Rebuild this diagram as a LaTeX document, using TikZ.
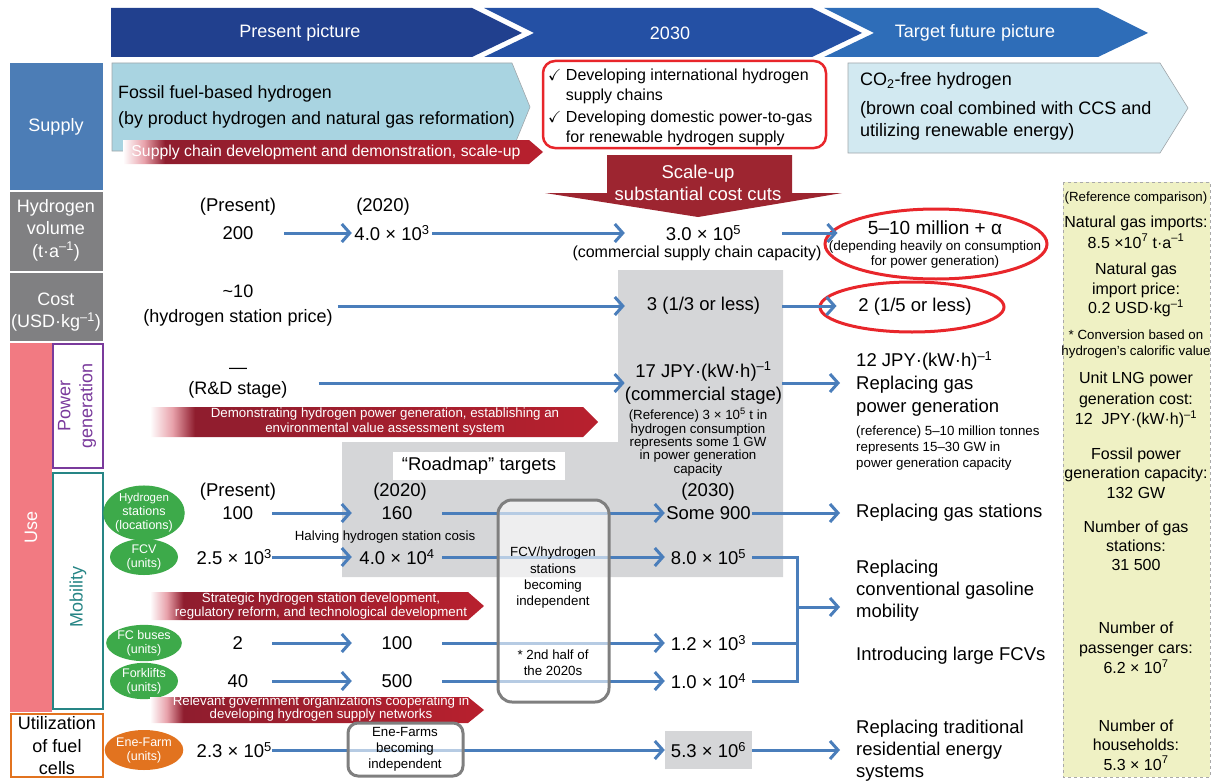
\documentclass[tikz,border=0pt]{standalone}
\usepackage{amssymb}
\usepackage{fontspec}
\setmainfont{Liberation Sans}
\usetikzlibrary{arrows.meta, positioning, calc, shapes.geometric}
\definecolor{navyA}{HTML}{21408E}
\definecolor{navyB}{HTML}{2450A4}
\definecolor{navyC}{HTML}{2E6DB8}
\definecolor{supblue}{HTML}{4C7DB6}
\definecolor{labgray}{HTML}{808082}
\definecolor{usepink}{HTML}{F27A82}
\definecolor{pgpurple}{HTML}{7A3A9C}
\definecolor{mobteal}{HTML}{268585}
\definecolor{fcorange}{HTML}{E2731F}
\definecolor{fcgreen}{HTML}{3DAA4A}
\definecolor{fossil}{HTML}{A9D4E1}
\definecolor{cofree}{HTML}{D2E9F1}
\definecolor{boxgray}{HTML}{A0A6AA}
\definecolor{chkred}{HTML}{E8262B}
\definecolor{scalered}{HTML}{9D2530}
\definecolor{roadgray}{HTML}{D5D6D8}
\definecolor{hblue}{HTML}{4A7EBB}
\definecolor{indepgray}{HTML}{7F7F7F}
\definecolor{refyellow}{HTML}{EFF1C4}
\definecolor{dashgray}{HTML}{A9A9A9}
\definecolor{fadepink}{HTML}{E8A2AB}
\definecolor{deepred}{HTML}{8F1D2E}
\definecolor{midred}{HTML}{A11F2E}
\definecolor{brightred}{HTML}{B8202E}
\pgfdeclarehorizontalshading{redfade}{100bp}{color(0bp)=(white); color(25bp)=(white); color(27.5bp)=(fadepink); color(30bp)=(deepred); color(50bp)=(midred); color(75bp)=(brightred); color(100bp)=(brightred)}

\begin{document}
\begin{tikzpicture}[x=1pt, y=-1pt,
  every node/.style={inner sep=0pt},
  big/.style={font=\fontsize{18.5}{22}\selectfont},
  mid/.style={font=\fontsize{16}{20}\selectfont},
  small/.style={font=\fontsize{13.3}{15}\selectfont},
  tag/.style={ellipse, minimum width=68pt, text=white, align=center, font=\fontsize{12.5}{14}\selectfont},
  pval/.style={big, anchor=east, minimum width=68pt},
  tval/.style={big, minimum width=90pt},
  fval/.style={big, minimum width=87pt},
  goal/.style={big, anchor=west, align=left, inner xsep=16pt},
  barrow/.style={line width=3pt, draw=hblue, -{Straight Barb[length=8pt,width=18pt]}},
  bline/.style={line width=3pt, draw=hblue},
  oval/.style={draw=chkred, line width=3pt, ellipse},
  indepbox/.style={draw=indepgray, line width=3pt, fill=white, fill opacity=0.6}]
  \useasboundingbox (0,0) rectangle (1214,781);

  % header chevrons
  \fill[navyA] (111,8) -- (472,8) -- (522,33) -- (472,57) -- (111,57) -- cycle;
  \fill[navyB] (484,8) -- (812,8) -- (862,33) -- (812,57) -- (484,57) -- (534,33) -- cycle;
  \fill[navyC] (824,8) -- (1098,8) -- (1148,33) -- (1098,57) -- (824,57) -- (874,33) -- cycle;
  \node[text=white, font=\fontsize{18}{22}\selectfont] (hpres) at (300,33) {Present picture};
  \node[text=white, font=\fontsize{18}{22}\selectfont] (hmid) at (670,33) {2030};
  \node[text=white, font=\fontsize{18}{22}\selectfont] (hfut) at (975,33) {Target future picture};

  % left column
  \fill[supblue] (10,63) rectangle (103,190);
  \node[text=white, font=\fontsize{18}{22.5}\selectfont] (lsup) at (56,127) {Supply};
  \fill[labgray] (10,192) rectangle (103,271);
  \node[text=white, align=center, font=\fontsize{18}{22.5}\selectfont] (lvol) at (56,230) {Hydrogen\\volume\\(t·a\textsuperscript{–1})};
  \fill[labgray] (10,273) rectangle (103,341);
  \node[text=white, align=center, font=\fontsize{18}{22}\selectfont] (lcost) at (56,312) {Cost\\(USD·kg\textsuperscript{–1})};
  \fill[usepink] (10,343) rectangle (52,712);
  \node[text=white, rotate=90, font=\fontsize{18}{22}\selectfont] (luse) at (31,527) {Use};
  \draw[pgpurple, line width=2.2pt, fill=white] (53.1,344.1) rectangle (102.9,467.9);
  \node[text=pgpurple, rotate=90, align=center, font=\fontsize{18}{22}\selectfont] (lpow) at (77,406) {Power\\generation};
  \draw[mobteal, line width=2.2pt, fill=white] (53.1,473) rectangle (102.9,709);
  \node[text=mobteal, rotate=90, font=\fontsize{18}{22}\selectfont] (lmob) at (78,597) {Mobility};
  \draw[fcorange, line width=2.2pt, fill=white] (11,714) rectangle (103,777);
  \node[align=center, font=\fontsize{18}{22.5}\selectfont] (lfc) at (57,746) {Utilization\\of fuel\\cells};

  % supply row
  \draw[boxgray, fill=fossil, line width=0.6pt] (112,63) -- (512,63) -- (530,107) -- (512,151) -- (112,151) -- cycle;
  \node[anchor=west, align=left, font=\fontsize{17.8}{26}\selectfont] (fossil) at (118,107) {Fossil fuel-based hydrogen\\(by product hydrogen and natural gas reformation)};
  \path[shading=redfade] (123,140) -- (529,140) -- (543,152) -- (529,164) -- (123,164) -- cycle;
  \node[text=white, font=\fontsize{15.8}{17}\selectfont] (supdev) at (326,152) {Supply chain development and demonstration, scale-up};
  \draw[chkred, line width=2.5pt, fill=white, rounded corners=12pt] (543,61) rectangle (826,148);
  \node[mid, anchor=west, align=left] (chka) at (548,86) {$\checkmark$ Developing international hydrogen\\\phantom{$\checkmark$ }supply chains};
  \node[mid, anchor=west, align=left] (chkb) at (548,128) {$\checkmark$ Developing domestic power-to-gas\\\phantom{$\checkmark$ }for renewable hydrogen supply};
  \draw[boxgray, fill=cofree, line width=0.6pt] (848,63) -- (1160,63) -- (1188,108) -- (1160,153) -- (848,153) -- cycle;
  \node[anchor=west, font=\fontsize{18}{22}\selectfont] (cofa) at (860,81) {CO\textsubscript{2}-free hydrogen};
  \node[anchor=west, align=left, font=\fontsize{18}{22}\selectfont] (cofb) at (860,121) {(brown coal combined with CCS and\\utilizing renewable energy)};
  \fill[scalered] (607,155) -- (792,155) -- (792,193) -- (842,193) -- (698,217) -- (545,193) -- (607,193) -- cycle;
  \node[text=white, align=center, font=\fontsize{18.5}{22}\selectfont] (scale) at (698,183) {Scale-up\\substantial cost cuts};

  % grey 2030 area and roadmap label
  \fill[roadgray] (618,270) -- (783,270) -- (783,577) -- (342,577) -- (342,442) -- (618,442) -- cycle;
  \node[big, fill=white, minimum width=172pt, minimum height=28pt] (road) at (479,466) {“Roadmap” targets};

  % hydrogen volume row
  \node[big] (vpl) at (238,207) {(Present)};
  \node[big, minimum width=92pt] (v0) at (238,233) {200};
  \node[big] (vyl) at (383,207) {(2020)};
  \node[big, minimum width=80pt] (v1) at (392,233) {4.0 × 10\textsuperscript{3}};
  \node[big, minimum width=157pt] (v2) at (703.5,233) {3.0 × 10\textsuperscript{5}};
  \node[mid] (v2b) at (697,253) {(commercial supply chain capacity)};
  \node[oval, minimum width=222pt, minimum height=70pt] (v3) at (936,244) {};
  \node[font=\fontsize{19}{22}\selectfont] (v3a) at (935,228) {5–10 million + α};
  \node[align=center, font=\fontsize{13.5}{15}\selectfont] (v3b) at (935,255) {(depending heavily on consumption\\for power generation)};
  \draw[barrow] (v0) -- (v1);
  \draw[barrow] (v1) -- (v2);
  \draw[barrow, shorten >=-14pt] (v2) -- (v2 -| v3.west);

  % cost row
  \node[align=center, font=\fontsize{18}{25}\selectfont] (c0) at (238,306) {\textasciitilde10\\(hydrogen station price)};
  \node[big, minimum width=157pt] (c1) at (703.5,306) {3 (1/3 or less)};
  \node[oval, minimum width=184pt, minimum height=50pt] (c2) at (912,307) {};
  \node[big] (c2t) at (915,307) {2 (1/5 or less)};
  \draw[barrow, shorten <=5pt] (c0) -- (c1);
  \draw[barrow, shorten >=-18pt] (c1) -- (c1 -| c2.west);

  % power generation row
  \node[align=center, font=\fontsize{18}{21}\selectfont] (p0) at (238,383) {—\\(R\&D stage)};
  \node[align=center, minimum width=157pt, font=\fontsize{18.5}{23}\selectfont] (p1) at (703.5,383) {17 JPY·(kW·h)\textsuperscript{–1}\\(commercial stage)};
  \node[align=center, font=\fontsize{13.3}{13.4}\selectfont] (p1r) at (698,442) {(Reference) 3 × 10\textsuperscript{5} t in\\hydrogen consumption\\represents some 1 GW\\in power generation\\capacity};
  \node[goal, font=\fontsize{18.5}{23}\selectfont] (p2) at (840,384) {12 JPY·(kW·h)\textsuperscript{–1}\\Replacing gas\\power generation};
  \node[anchor=west, align=left, font=\fontsize{13.3}{16}\selectfont] (p2r) at (856,448) {(reference) 5–10 million tonnes\\represents 15–30 GW in\\power generation capacity};
  \draw[barrow, shorten <=31pt] (p0) -- (p1);
  \draw[barrow] (p1) -- (p1 -| p2.west);
  \path[shading=redfade] (150,407) -- (583,407) -- (598,422) -- (583,437) -- (150,437) -- cycle;
  \node[small, text=white, align=center] (pdemo) at (385,422) {Demonstrating hydrogen power generation, establishing an\\environmental value assessment system};

  % mobility rows
  \node[big] (mpl) at (238,492) {(Present)};
  \node[big] (myl) at (400,492) {(2020)};
  \node[big] (mzl) at (708,492) {(2030)};
  \foreach \nm/\yy/\hh/\txt in {gst/513/46/{\fontsize{11.5}{12}\selectfont Hydrogen\\stations\\(locations)}, gfcv/557/36/{FCV\\(units)}, gbus/643/36/{FC buses\\(units)}, gfork/681/36/{Forklifts\\(units)}}
    \node[tag, fill=fcgreen, minimum height=\hh pt] (\nm) at (144,\yy) {\txt};
  \node[tag, fill=fcorange, minimum height=40pt] (gene) at (144,750) {Ene-Farm\\(units)};

  \node[pval] (s0) at (272,513) {100};
  \node[tval] (s1) at (397,513) {160};
  \node[fval] (s2) at (708.5,513) {Some 900};
  \node[goal] (s3) at (840,513) {Replacing gas stations};
  \node[small] (halve) at (385,537) {Halving hydrogen station cosis};

  \node[pval] (f0) at (272,557) {2.5 × 10\textsuperscript{3}};
  \node[tval] (f1) at (397,557) {4.0 × 10\textsuperscript{4}};
  \node[fval] (f2) at (708.5,557) {8.0 × 10\textsuperscript{5}};

  \node[pval] (b0) at (272,643) {2};
  \node[tval] (b1) at (397,643) {100};
  \node[fval] (b2) at (708.5,643) {1.2 × 10\textsuperscript{3}};

  \node[pval] (k0) at (272,681) {40};
  \node[tval] (k1) at (397,681) {500};
  \node[fval] (k2) at (708.5,681) {1.0 × 10\textsuperscript{4}};

  \foreach \a/\b/\c in {s0/s1/s2, f0/f1/f2, b0/b1/b2, k0/k1/k2} {
    \draw[barrow] (\a) -- (\b);
    \draw[barrow] (\b) -- (\c);
  }
  \draw[barrow] (s2) -- (s3);

  \coordinate (join) at (797,607);
  \draw[bline] (f2.east) -| (join);
  \draw[bline] (b2.east) -| (join);
  \draw[bline] (k2.east) -| (join);
  \node[goal] (mob) at (840,591) {Replacing\\conventional gasoline\\mobility};
  \draw[barrow] (join) -- (join -| mob.west);
  \node[big, anchor=west] (large) at (856,656) {Introducing large FCVs};

  \path[shading=redfade] (150,592) -- (468,592) -- (484,606) -- (468,620) -- (150,620) -- cycle;
  \node[text=white, align=center, font=\fontsize{13.3}{14.5}\selectfont] (strat) at (321,606) {Strategic hydrogen station development,\\regulatory reform, and technological development};
  \path[shading=redfade] (150,697) -- (468,697) -- (484,710) -- (468,723) -- (150,723) -- cycle;
  \node[text=white, align=center, font=\fontsize{13.3}{13}\selectfont] (relv) at (321,709) {Relevant government organizations cooperating in\\developing hydrogen supply networks};

  % fuel cell row
  \node[pval] (e0) at (272,750) {2.3 × 10\textsuperscript{5}};
  \node[big, fill=roadgray, minimum width=87pt, minimum height=38pt] (e2) at (708.5,750) {5.3 × 10\textsuperscript{6}};
  \node[goal] (e3) at (840,751) {Replacing traditional\\residential energy\\systems};
  \draw[barrow] (e0) -- (e2);
  \draw[barrow] (e2) -- (e2 -| e3.west);

  % independence boxes over the lines
  \node[indepbox, rounded corners=14pt, minimum width=111pt, minimum height=202pt] (indep) at (553.5,601) {};
  \node[align=center, font=\fontsize{13.3}{16.3}\selectfont] (indt) at (553,578) {FCV/hydrogen\\stations\\becoming\\independent};
  \node[align=center, font=\fontsize{13.3}{16}\selectfont] (half) at (553,663) {* 2nd half of\\the 2020s};
  \node[indepbox, rounded corners=10pt, minimum width=115pt, minimum height=53pt] (ebox) at (405.5,749.5) {};
  \node[align=center, font=\fontsize{13.3}{16}\selectfont] (ebt) at (405,749) {Ene-Farms\\becoming\\independent};

  % reference comparison column
  \draw[dashgray, dashed, fill=refyellow, line width=0.8pt] (1063,182) rectangle (1210,777);
  \node[small] (rc) at (1136,198) {(Reference comparison)};
  \node[align=center, font=\fontsize{16}{21}\selectfont] (r1) at (1136,232) {Natural gas imports:\\8.5 ×10\textsuperscript{7} t·a\textsuperscript{–1}};
  \node[align=center, font=\fontsize{16}{19.5}\selectfont] (r2) at (1136,290) {Natural gas\\import price:\\0.2 USD·kg\textsuperscript{–1}};
  \node[align=center, font=\fontsize{13.3}{16}\selectfont] (r3) at (1136,344) {* Conversion based on\\hydrogen’s calorific value};
  \node[align=center, font=\fontsize{16}{20.5}\selectfont] (r4) at (1136,400) {Unit LNG power\\generation cost:\\12~ JPY·(kW·h)\textsuperscript{–1}};
  \node[align=center, font=\fontsize{16}{19.5}\selectfont] (r5) at (1136,473) {Fossil power\\generation capacity:\\132 GW};
  \node[align=center, font=\fontsize{16}{19}\selectfont] (r6) at (1136,546) {Number of gas\\stations:\\31 500};
  \node[align=center, font=\fontsize{16}{20}\selectfont] (r7) at (1136,648) {Number of\\passenger cars:\\6.2 × 10\textsuperscript{7}};
  \node[align=center, font=\fontsize{16}{19.5}\selectfont] (r8) at (1136,745) {Number of\\households:\\5.3 × 10\textsuperscript{7}};
\end{tikzpicture}
\end{document}
